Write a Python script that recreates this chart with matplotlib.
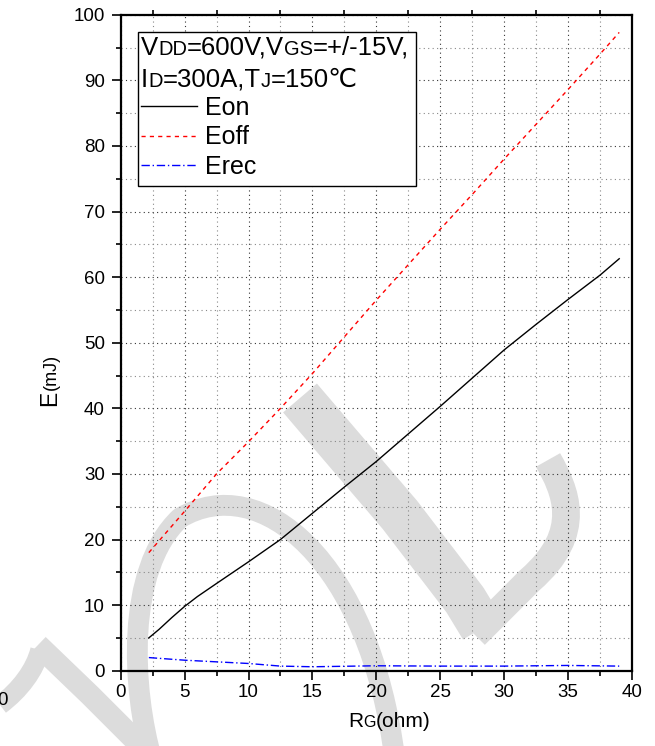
import matplotlib
matplotlib.use("Agg")
import matplotlib.pyplot as plt
import numpy as np
from matplotlib.transforms import IdentityTransform
from matplotlib.path import Path
from matplotlib.patches import PathPatch, Rectangle
from matplotlib.ticker import MultipleLocator

plt.rcParams['font.family'] = ['Liberation Sans', 'DejaVu Sans']

# switching energy vs gate resistance
rg_on = [2.2, 3, 4, 5, 6, 7.5, 10, 12.5, 15, 17.5, 20, 22.5, 25, 27.5, 30, 32.5, 35, 37.5, 39]
e_on = [5.0, 6.3, 8.1, 9.8, 11.3, 13.3, 16.6, 20.0, 24.0, 28.0, 31.9, 36.1, 40.3, 44.6, 48.9, 52.8, 56.6, 60.3, 62.8]
rg_off = [2.2, 5, 7.5, 10, 12.5, 15, 17.5, 20, 22.5, 25, 27.5, 30, 32.5, 35, 37.5, 39]
e_off = [18.0, 24.3, 30.0, 34.9, 40.0, 45.3, 50.9, 56.5, 61.9, 67.3, 72.6, 78.0, 83.3, 88.6, 94.0, 97.3]
rg_rec = [2.2, 5, 7.5, 10, 12.5, 15, 20, 25, 30, 35, 39]
e_rec = [2.0, 1.6, 1.35, 1.1, 0.7, 0.6, 0.75, 0.7, 0.7, 0.8, 0.7]

W, H = 655, 746
fig = plt.figure(figsize=(W / 100, H / 100), dpi=100)
r = fig.canvas.get_renderer()


def px(x, y):
    # pixel (from top-left) -> figure fraction
    return x / W, 1 - y / H


# watermark (grey strokes behind everything)
def stroke(pts, codes, lw):
    verts = [px(*p) for p in pts]
    path = Path(verts, codes)
    fig.patches.append(PathPatch(path, transform=fig.transFigure, fill=False,
                                 edgecolor='#dcdcdc', lw=lw, capstyle='butt',
                                 joinstyle='round', zorder=-5))

C4 = Path.CURVE4
stroke([(152, 760), (132, 690), (125, 570), (180, 518), (260, 470), (370, 560), (395, 760)],
       [Path.MOVETO, C4, C4, C4, C4, C4, C4], 15)
stroke([(300, 398), (400, 515), (465, 600), (482, 628)],
       [Path.MOVETO, Path.LINETO, Path.LINETO, Path.LINETO], 32)
stroke([(475, 635), (530, 580), (585, 532), (565, 490), (548, 460)],
       [Path.MOVETO, Path.LINETO, C4, C4, C4], 20)
stroke([(38, 645), (90, 695), (125, 730), (145, 750)],
       [Path.MOVETO, Path.LINETO, Path.LINETO, Path.LINETO], 16)
stroke([(0, 705), (20, 690), (35, 670), (40, 650)],
       [Path.MOVETO, C4, C4, C4], 14)

ax = fig.add_axes([120.7 / W, 1 - 670.7 / H, (632 - 120.7) / W, (670.7 - 14.7) / H])
ax.set_facecolor('none')

ax.plot(rg_on, e_on, color='black', lw=1.0, label='Eon')
ax.plot(rg_off, e_off, color='red', lw=1.0, ls=(0, (3, 3)), label='Eoff')
ax.plot(rg_rec, e_rec, color='blue', lw=1.0, ls=(0, (6, 2, 1, 2)), label='Erec')

ax.set_xlim(0, 40)
ax.set_ylim(0, 100)
ax.xaxis.set_major_locator(MultipleLocator(5))
ax.xaxis.set_minor_locator(MultipleLocator(2.5))
ax.yaxis.set_major_locator(MultipleLocator(10))
ax.yaxis.set_minor_locator(MultipleLocator(5))
ax.grid(which='major', color='#333333', ls=(0, (1, 3)), lw=0.8)
ax.grid(which='minor', color='#888888', ls=(0, (1, 3)), lw=0.8)
ax.set_axisbelow(True)

for s in ax.spines.values():
    s.set_linewidth(1.6)
ax.tick_params(which='major', direction='out', length=6.5, width=1.2, labelsize=13.5, pad=3)
ax.tick_params(axis='y', which='major', pad=5)
ax.tick_params(which='minor', direction='out', length=3.5, width=1.2)
ax.tick_params(which='minor', top=True)

# legend box with conditions
x0, y0 = (138 - 120.7) / 511.3, (670.7 - 186) / 656
x1, y1 = (416 - 120.7) / 511.3, (670.7 - 32) / 656
ax.add_patch(Rectangle((x0, y0), x1 - x0, y1 - y0, transform=ax.transAxes,
                       facecolor='white', edgecolor='black', lw=1.0, zorder=5))
leg = ax.legend(loc='upper left', bbox_to_anchor=((141 - 120.7) / 511.3, (670.7 - 96) / 656),
                frameon=False, fontsize=18, handlelength=2.25, handletextpad=0.32,
                labelspacing=0.22, borderpad=0, borderaxespad=0)
leg.set_zorder(6)


def rich(pieces, x, y, ha='left', rotation=0, z=7):
    # pieces share one baseline; x, y are pixels from top-left
    arts = []
    for s, fs in pieces:
        t = fig.text(0, 0, s, fontsize=fs, transform=IdentityTransform(),
                     ha='left', va='baseline', rotation=rotation,
                     rotation_mode='anchor', zorder=z)
        arts.append(t)
    sizes = []
    for t in arts:
        bb = t.get_window_extent(r)
        sizes.append(bb.height if rotation else bb.width)
    total = sum(sizes)
    if rotation:
        pos = (H - y) - (total / 2 if ha == 'center' else 0)
        for t, s in zip(arts, sizes):
            t.set_position((x, pos))
            pos += s
    else:
        pos = x - (total / 2 if ha == 'center' else 0)
        for t, s in zip(arts, sizes):
            t.set_position((pos, H - y))
            pos += s


big, small = 18.5, 14.5
rich([('V', big), ('DD', small), ('=600V,V', big), ('GS', small), ('=+/-15V,', big)], 141, 55)
rich([('I', big), ('D', small), ('=300A,T', big), ('J', small), ('=150\u2103', big)], 141, 87)

rich([('E', 16.5), ('(mJ)', 13)], 56, 380, ha='center', rotation=90)
rich([('R', 15), ('G', 11.5), ('(ohm)', 15)], 389, 727, ha='center')
fig.text(-3 / W, 1 - 705 / H, '0', fontsize=13.5)

fig.savefig('out.png', dpi=100)
